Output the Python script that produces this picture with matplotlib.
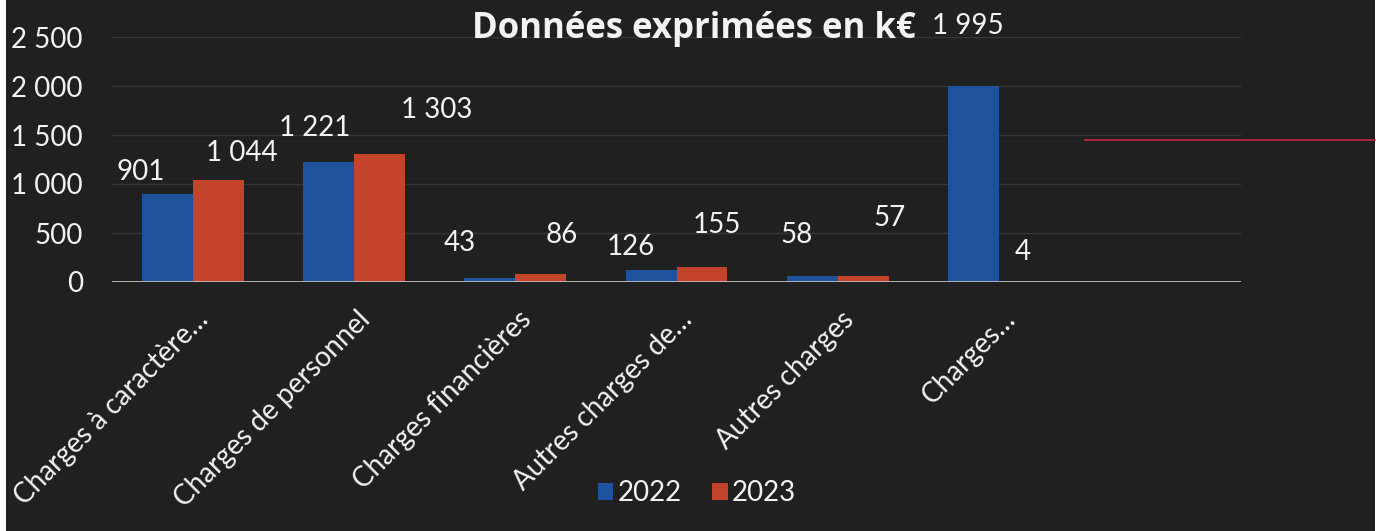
import numpy as np
import matplotlib
matplotlib.use('Agg')
import matplotlib.pyplot as plt
import matplotlib.transforms as mtransforms
from matplotlib.patches import Rectangle
from matplotlib.lines import Line2D

# Data
categories = ['Charges à caractère…', 'Charges de personnel', 'Charges financières',
              'Autres charges de…', 'Autres charges', 'Charges…']
values_2022 = [901, 1221, 43, 126, 58, 1995]
values_2023 = [1044, 1303, 86, 155, 57, 4]
years = ['2022', '2023']
y_ticks = [0, 500, 1000, 1500, 2000, 2500]

# label offsets in pixels (dx, dy) from bar top, as placed in the original
offsets_2022 = [(-26, 22), (-14, 34), (-30, 35), (-20, 23), (-16, 41), (-6, 60)]
offsets_2023 = [(24, 27), (57, 44), (21, 39), (15, 42), (26, 58), (-2, 30)]

blue = '#1f529c'
red = '#c4442b'
bg = '#202020'
txt = '#f2f2f2'

plt.rcParams['font.family'] = ['Lato', 'DejaVu Sans']

W, H = 1381, 531
fig = plt.figure(figsize=(W / 100, H / 100), dpi=100)
fig.patch.set_facecolor('white')
fig.patches.append(Rectangle((6 / W, 0), (1375 - 6) / W, 1, transform=fig.transFigure,
                             facecolor=bg, edgecolor='none', zorder=-10))

ax = fig.add_axes([112 / W, 1 - 282 / H, (1241 - 112) / W, (282 - 37) / H])
ax.set_facecolor('none')

x = np.arange(len(categories))
bw = 0.316
b1 = ax.bar(x - bw / 2, values_2022, bw, color=blue, label=years[0], zorder=3)
b2 = ax.bar(x + bw / 2, values_2023, bw, color=red, label=years[1], zorder=3)

def fmt(v):
    return f'{v:,}'.replace(',', ' ')

for bars, offs in ((b1, offsets_2022), (b2, offsets_2023)):
    for rect, (dx, dy) in zip(bars, offs):
        ax.annotate(fmt(int(rect.get_height())),
                    (rect.get_x() + rect.get_width() / 2, rect.get_height()),
                    xytext=(dx, dy), textcoords='offset pixels',
                    ha='center', va='center', color=txt, fontsize=20,
                    annotation_clip=False, zorder=5)

ax.set_xlim(-0.5, 6.5)
ax.set_ylim(0, 2500)
ax.set_yticks(y_ticks)
ax.set_yticklabels([fmt(v) for v in y_ticks], color=txt, fontsize=20)
ax.set_xticks(x)
ax.set_xticklabels(categories, rotation=45, ha='right', va='center',
                   rotation_mode='anchor', color=txt, fontsize=20)
ax.tick_params(axis='y', length=0, pad=21)
ax.tick_params(axis='x', length=0, pad=24)
shift = mtransforms.ScaledTranslation(12 / 100, 0, fig.dpi_scale_trans)
for lab in ax.get_xticklabels():
    lab.set_transform(lab.get_transform() + shift)
ax.grid(axis='y', color='#363636', linewidth=1, zorder=0)
for s in ax.spines.values():
    s.set_visible(False)
ax.axhline(0, color='#bdbdbd', linewidth=2, zorder=4)

fig.text(694 / W, 1 - 29 / H, 'Données exprimées en k€', ha='center', va='center',
         color=txt, fontsize=25, fontweight='bold', family=['Open Sans', 'DejaVu Sans'])

leg = ax.legend(loc='center', bbox_to_anchor=(697 / W, 1 - 493 / H),
                bbox_transform=fig.transFigure, ncol=2, frameon=False,
                fontsize=20, handlelength=0.55, handleheight=0.55,
                handletextpad=0.15, columnspacing=1.1)
for t in leg.get_texts():
    t.set_color(txt)

# red stroke at the right side of the scan
fig.add_artist(Line2D([1085 / W, 1375 / W], [1 - 140 / H, 1 - 140 / H],
                      color='#c8283c', linewidth=1.2))

fig.savefig('out.png', dpi=100, facecolor=fig.get_facecolor())
